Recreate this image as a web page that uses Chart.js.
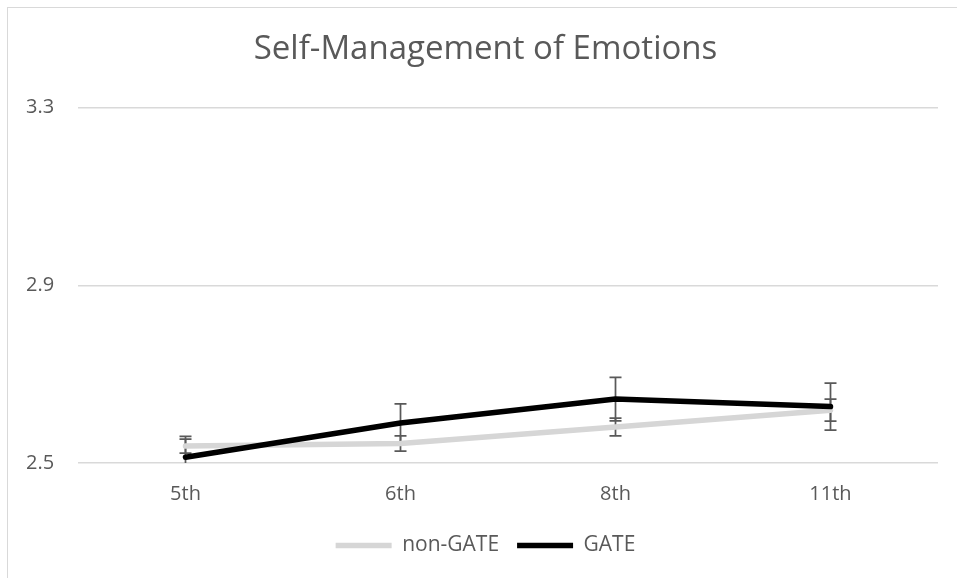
<!DOCTYPE html>
<html>
<head>
<meta charset="utf-8">
<script src="https://cdn.jsdelivr.net/npm/chart.js@4"></script>
<style>
    html, body { margin: 0; padding: 0; background: #fff; overflow: hidden; }
    #frame { position: absolute; left: 7px; top: 7px; width: 1100px; height: 700px; border: 1.5px solid #d9d9d9; }
    #wrap { position: absolute; left: 0; top: 0; width: 957px; height: 578px; }
</style>
</head>
<body>
<div id="frame"></div>
<div id="wrap"><canvas id="emotionsChart"></canvas></div>
<script>
// --- Data ---
const grades = ['5th', '6th', '8th', '11th'];
const nonGateMeans = [2.538, 2.544, 2.581, 2.619];
const nonGateErrors = [0.016, 0.017, 0.020, 0.025];
const gateMeans = [2.513, 2.590, 2.644, 2.627];
const gateErrors = [0.047, 0.043, 0.049, 0.053];
const yTicks = [2.5, 2.9, 3.3];

const TEXT = '#595959';
const GRID = '#d9d9d9';

// error bars drawn under the lines, using the chart's own y scale
const errorBars = {
    id: 'errorBars',
    beforeDatasetsDraw(chart) {
        const { ctx, chartArea, scales: { y } } = chart;
        ctx.save();
        ctx.beginPath();
        ctx.rect(chartArea.left, chartArea.top, chartArea.width, chartArea.height);
        ctx.clip();
        ctx.strokeStyle = '#595959';
        ctx.lineWidth = 1.75;
        chart.data.datasets.forEach((ds, i) => {
            const meta = chart.getDatasetMeta(i);
            ds.errors.forEach((e, j) => {
                const px = meta.data[j].x;
                const hi = y.getPixelForValue(ds.data[j] + e);
                const lo = y.getPixelForValue(ds.data[j] - e);
                ctx.beginPath();
                ctx.moveTo(px, hi); ctx.lineTo(px, lo);
                ctx.moveTo(px - 6, hi); ctx.lineTo(px + 6, hi);
                ctx.moveTo(px - 6, lo); ctx.lineTo(px + 6, lo);
                ctx.stroke();
            });
        });
        ctx.restore();
    }
};

function initChart() {
    const ctx = document.getElementById('emotionsChart').getContext('2d');
    new Chart(ctx, {
        type: 'line',
        data: {
            labels: grades,
            datasets: [{
                label: 'non-GATE',
                data: nonGateMeans,
                errors: nonGateErrors,
                borderColor: '#d6d6d6',
                backgroundColor: '#d6d6d6',
                borderWidth: 5.5,
                order: 1
            }, {
                label: 'GATE',
                data: gateMeans,
                errors: gateErrors,
                borderColor: '#000000',
                backgroundColor: '#000000',
                borderWidth: 5.5,
                order: 0
            }]
        },
        options: {
            responsive: true,
            maintainAspectRatio: false,
            animation: false,
            layout: { padding: { left: 33, right: 19, top: 0, bottom: 12 } },
            elements: {
                point: { radius: 0, hoverRadius: 0 },
                line: { tension: 0, borderCapStyle: 'round', borderJoinStyle: 'round' }
            },
            plugins: {
                tooltip: { enabled: false },
                title: {
                    display: true,
                    text: 'Self-Management of Emotions',
                    color: TEXT,
                    font: { family: 'Open Sans', size: 33, weight: 'normal' },
                    padding: { top: 30, bottom: 38 }
                },
                legend: {
                    position: 'bottom',
                    labels: {
                        usePointStyle: true,
                        pointStyle: 'line',
                        pointStyleWidth: 56,
                        color: TEXT,
                        font: { family: 'Open Sans', size: 21 },
                        padding: 18,
                        sort: (a, b) => a.datasetIndex - b.datasetIndex
                    }
                }
            },
            scales: {
                x: {
                    offset: true,
                    grid: { display: false },
                    border: { display: false },
                    ticks: { color: TEXT, font: { family: 'Open Sans', size: 20 }, padding: 11 }
                },
                y: {
                    min: 2.5,
                    max: 3.3,
                    afterBuildTicks: axis => { axis.ticks = yTicks.map(v => ({ value: v })); },
                    afterFit: axis => { axis.width = 45; },
                    grid: { color: GRID, lineWidth: 1.5, drawTicks: false },
                    border: { display: false },
                    ticks: {
                        color: TEXT,
                        font: { family: 'Open Sans', size: 20 },
                        mirror: true,
                        padding: -52,
                        callback: v => v.toFixed(1)
                    }
                }
            }
        },
        plugins: [errorBars]
    });
}

document.addEventListener('DOMContentLoaded', initChart);
</script>
</body>
</html>
